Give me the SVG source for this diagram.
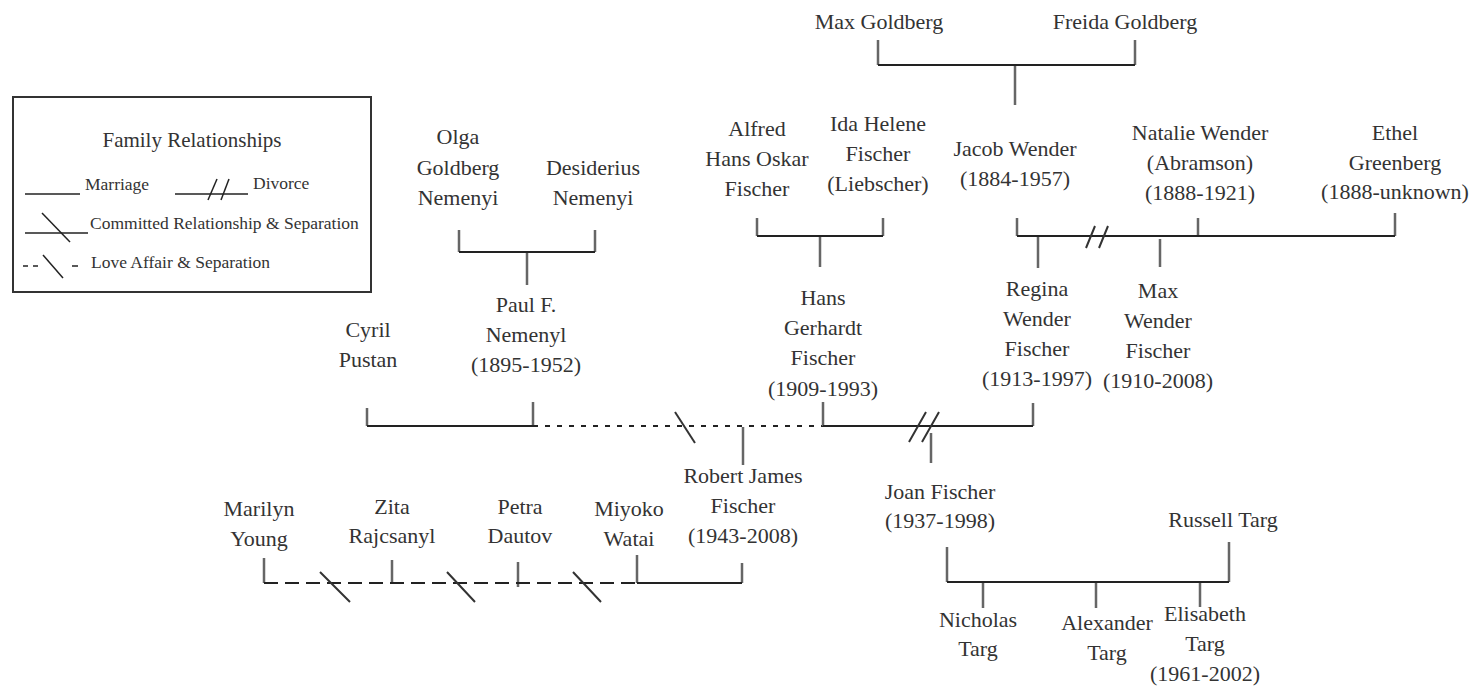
<svg xmlns="http://www.w3.org/2000/svg" width="1472" height="688" viewBox="0 0 1472 688">
<style>
text { font-family: "Liberation Serif", "Times New Roman", Tinos, "DejaVu Serif", "Noto Serif", serif; fill: #333; }
.n text { font-size: 22px; text-anchor: middle; }
.lg { font-size: 17.5px; }
.h { stroke: #222; stroke-width: 2; fill: none; }
.v { stroke: #666; stroke-width: 2.5; fill: none; }
.d { stroke: #222; stroke-width: 2; stroke-dasharray: 5 7; fill: none; }
.dl { stroke: #222; stroke-width: 2; stroke-dasharray: 14 7; fill: none; }
.s { stroke: #333; stroke-width: 2; fill: none; }
.lgl { stroke: #222; stroke-width: 1.5; fill: none; }
</style>
<rect width="1472" height="688" fill="#fff"/>

<g id="legend" font-family="Liberation Serif, DejaVu Serif, serif">
  <rect x="13" y="97" width="358" height="195" fill="#fff" stroke="#333" stroke-width="2"/>
  <text x="192" y="147" font-size="21" text-anchor="middle">Family Relationships</text>
  <line class="lgl" x1="25" y1="194" x2="80" y2="194"/>
  <text class="lg" x="85" y="190">Marriage</text>
  <line class="lgl" x1="175" y1="194" x2="248" y2="194"/>
  <line class="lgl" x1="217" y1="179" x2="208" y2="200"/>
  <line class="lgl" x1="229" y1="179" x2="221" y2="200"/>
  <text class="lg" x="253" y="189">Divorce</text>
  <line class="lgl" x1="25" y1="233" x2="88" y2="233"/>
  <line class="lgl" x1="42" y1="213" x2="70" y2="242"/>
  <text class="lg" x="90" y="229">Committed Relationship &amp; Separation</text>
  <line class="lgl" x1="23" y1="266" x2="28" y2="266"/>
  <line class="lgl" x1="33" y1="266" x2="38" y2="266"/>
  <line class="lgl" x1="43" y1="255" x2="63" y2="278"/>
  <line class="lgl" x1="72" y1="266" x2="78" y2="266"/>
  <text class="lg" x="91" y="268">Love Affair &amp; Separation</text>
</g>

<g id="connectors">
  <path class="v" d="M878 40V65M1135 40V65M1015 65V105"/>
  <path class="h" d="M878 65H1135"/>
  <path class="v" d="M757 218V236M883 218V236M820 236V267"/>
  <path class="h" d="M757 236H883"/>
  <path class="v" d="M1017 218V236M1198 218V236M1395 213V236M1038 236V268M1160 239V267"/>
  <path class="h" d="M1017 236H1395"/>
  <path class="s" d="M1086 248L1095 226M1099 248L1108 226"/>
  <path class="v" d="M459 230V252M595 230V252M527 252V285"/>
  <path class="h" d="M459 252H595"/>
  <path class="v" d="M367 408V426M533 402V426"/>
  <path class="h" d="M367 426H533"/>
  <path class="d" d="M533 426H823"/>
  <path class="s" d="M675 412L695 443"/>
  <path class="v" d="M743 427V465"/>
  <path class="v" d="M823 402V426M1033 403V426M931 433V463"/>
  <path class="h" d="M823 426H1033"/>
  <path class="s" d="M909 442L926 412M922 442L939 412"/>
  <path class="v" d="M264 558V583M392 560V583M518 562V587M637 555V583M742 563V583"/>
  <path class="dl" d="M264 583H637"/>
  <path class="h" d="M637 583H742"/>
  <path class="s" d="M320 572L350 602M447 572L475 602M573 572L601 602"/>
  <path class="v" d="M947 547V582M1229 542V582M983 582V608M1096 582V608M1200 582V607"/>
  <path class="h" d="M947 582H1229"/>
</g>

<g id="max-goldberg" class="n"><text x="879" y="29">Max Goldberg</text></g>
<g id="freida-goldberg" class="n"><text x="1125" y="29">Freida Goldberg</text></g>
<g id="alfred" class="n"><text><tspan x="757" y="136">Alfred</tspan><tspan x="757" y="166">Hans Oskar</tspan><tspan x="757" y="196">Fischer</tspan></text></g>
<g id="ida" class="n"><text><tspan x="878" y="131">Ida Helene</tspan><tspan x="878" y="161">Fischer</tspan><tspan x="878" y="191">(Liebscher)</tspan></text></g>
<g id="jacob" class="n"><text><tspan x="1015" y="156">Jacob Wender</tspan><tspan x="1015" y="186">(1884-1957)</tspan></text></g>
<g id="natalie" class="n"><text><tspan x="1200" y="140">Natalie Wender</tspan><tspan x="1200" y="170">(Abramson)</tspan><tspan x="1200" y="200">(1888-1921)</tspan></text></g>
<g id="ethel" class="n"><text><tspan x="1395" y="140">Ethel</tspan><tspan x="1395" y="170">Greenberg</tspan><tspan x="1395" y="199">(1888-unknown)</tspan></text></g>
<g id="olga" class="n"><text><tspan x="458" y="144">Olga</tspan><tspan x="458" y="175">Goldberg</tspan><tspan x="458" y="205">Nemenyi</tspan></text></g>
<g id="desiderius" class="n"><text><tspan x="593" y="175">Desiderius</tspan><tspan x="593" y="205">Nemenyi</tspan></text></g>
<g id="paul" class="n"><text><tspan x="526" y="312">Paul F.</tspan><tspan x="526" y="342">Nemenyl</tspan><tspan x="526" y="372">(1895-1952)</tspan></text></g>
<g id="cyril" class="n"><text><tspan x="368" y="337">Cyril</tspan><tspan x="368" y="367">Pustan</tspan></text></g>
<g id="hans" class="n"><text><tspan x="823" y="305">Hans</tspan><tspan x="823" y="335">Gerhardt</tspan><tspan x="823" y="365">Fischer</tspan><tspan x="823" y="396">(1909-1993)</tspan></text></g>
<g id="regina" class="n"><text><tspan x="1037" y="296">Regina</tspan><tspan x="1037" y="326">Wender</tspan><tspan x="1037" y="356">Fischer</tspan><tspan x="1037" y="386">(1913-1997)</tspan></text></g>
<g id="max-wender" class="n"><text><tspan x="1158" y="298">Max</tspan><tspan x="1158" y="328">Wender</tspan><tspan x="1158" y="358">Fischer</tspan><tspan x="1158" y="388">(1910-2008)</tspan></text></g>
<g id="robert" class="n"><text><tspan x="743" y="483">Robert James</tspan><tspan x="743" y="513">Fischer</tspan><tspan x="743" y="543">(1943-2008)</tspan></text></g>
<g id="joan" class="n"><text><tspan x="940" y="499">Joan Fischer</tspan><tspan x="940" y="528">(1937-1998)</tspan></text></g>
<g id="russell" class="n"><text x="1223" y="527">Russell Targ</text></g>
<g id="marilyn" class="n"><text><tspan x="259" y="516">Marilyn</tspan><tspan x="259" y="546">Young</tspan></text></g>
<g id="zita" class="n"><text><tspan x="392" y="514">Zita</tspan><tspan x="392" y="543">Rajcsanyl</tspan></text></g>
<g id="petra" class="n"><text><tspan x="520" y="514">Petra</tspan><tspan x="520" y="543">Dautov</tspan></text></g>
<g id="miyoko" class="n"><text><tspan x="629" y="516">Miyoko</tspan><tspan x="629" y="546">Watai</tspan></text></g>
<g id="nicholas" class="n"><text><tspan x="978" y="627">Nicholas</tspan><tspan x="978" y="656">Targ</tspan></text></g>
<g id="alexander" class="n"><text><tspan x="1107" y="630">Alexander</tspan><tspan x="1107" y="660">Targ</tspan></text></g>
<g id="elisabeth" class="n"><text><tspan x="1205" y="621">Elisabeth</tspan><tspan x="1205" y="651">Targ</tspan><tspan x="1205" y="681">(1961-2002)</tspan></text></g>
</svg>
